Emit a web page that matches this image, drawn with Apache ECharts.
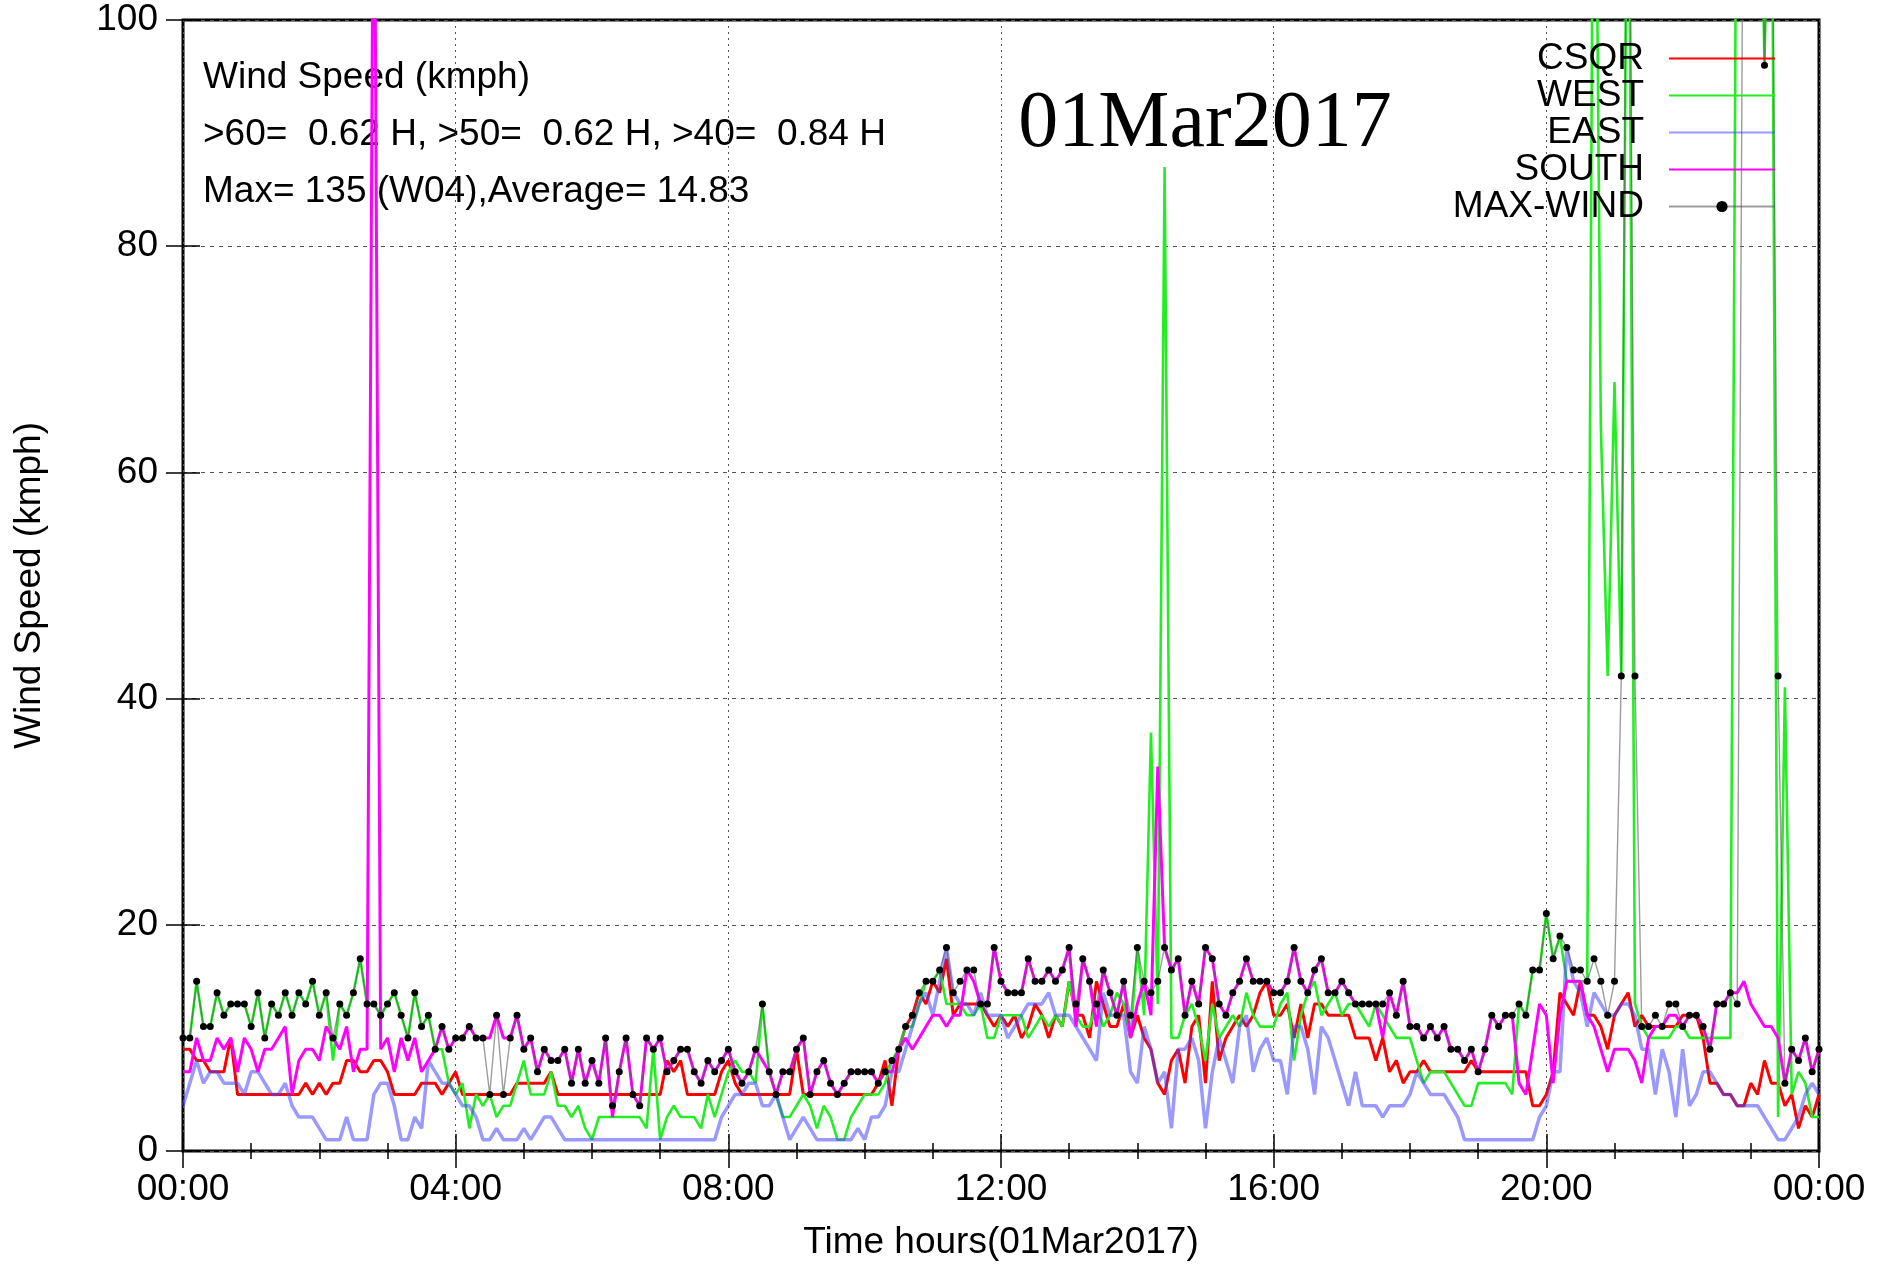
<!DOCTYPE html>
<html>
<head>
<meta charset="utf-8">
<script src="https://cdn.jsdelivr.net/npm/echarts@6/dist/echarts.min.js"></script>
<style>
  html, body { margin: 0; padding: 0; background: #fff; }
  #main { width: 1886px; height: 1265px; }
</style>
</head>
<body>
<div id="main"></div>
<script>
// samples every 6 minutes, 00:00 .. 24:00 (241 points)
const csqr = [
  9,9,8,8,7,7,7,10,5,5,
  5,5,5,5,5,5,5,5,6,5,
  6,5,6,6,8,8,7,7,8,8,
  7,5,5,5,5,6,6,6,5,6,
  7,5,5,5,5,5,5,5,5,6,
  6,6,6,6,7,5,5,5,5,5,
  5,5,5,5,5,5,5,5,5,5,
  5,8,7,8,5,5,5,5,5,7,
  8,6,5,5,5,5,5,5,5,5,
  9,5,5,5,5,5,5,5,5,5,
  5,5,6,8,4,9,11,12,14,13,
  15,14,17,12,13,13,13,13,12,11,
  12,11,12,10,11,13,12,10,12,11,
  15,12,12,10,15,13,11,11,13,10,
  12,10,9,6,5,8,9,6,11,12,
  6,15,8,10,11,12,11,12,14,15,
  12,12,13,10,13,10,13,13,12,12,
  12,12,10,10,10,8,10,7,8,6,
  7,7,8,7,7,7,7,7,7,8,
  7,7,7,7,7,7,7,7,4,4,
  5,7,14,13,12,15,12,12,11,9,
  12,13,14,11,12,11,11,11,11,11,
  12,12,12,10,6,6,5,5,4,4,
  6,5,8,6,6,4,5,2,4,3,
  5
];
const west = [
  10,10,15,11,11,14,12,13,13,13,
  11,14,10,13,12,14,12,14,13,15,
  12,14,8,13,12,14,17,13,13,12,
  13,14,12,10,14,11,12,9,9,6,
  5,6,2,5,4,5,3,4,4,6,
  8,5,5,5,7,4,4,3,4,2,
  1,3,3,3,3,3,3,3,2,9,
  1,3,4,3,3,3,2,5,3,5,
  7,8,7,7,6,13,7,5,3,3,
  4,5,4,2,4,3,1,1,3,4,
  5,5,5,6,8,9,11,11,13,15,
  15,16,13,13,13,12,12,13,10,10,
  12,12,12,12,10,11,12,11,12,11,
  15,12,11,11,13,11,12,14,13,10,
  18,12,37,13,87,10,10,12,13,11,
  8,13,10,11,12,11,14,12,11,11,
  11,13,14,8,12,14,15,12,13,14,
  12,13,13,12,11,13,12,11,10,10,
  10,8,6,7,7,7,6,5,4,4,
  6,6,6,6,6,5,13,12,16,16,
  21,17,19,15,15,15,15,135,64,42,
  68,42,130,13,11,10,10,10,10,11,
  11,10,10,10,10,10,10,10,130,133,
  129,131,96,127,3,41,5,7,6,3,
  3
];
const east = [
  4,6,8,6,7,7,6,6,6,5,
  7,7,6,5,5,6,4,3,3,3,
  2,1,1,1,3,1,1,1,5,6,
  6,4,1,1,3,2,8,7,6,6,
  5,4,4,3,1,1,2,1,1,1,
  2,1,2,3,3,2,1,1,1,1,
  1,1,1,1,1,1,1,1,1,1,
  1,1,1,1,1,1,1,1,1,3,
  4,5,5,6,6,4,4,5,3,1,
  2,3,2,1,1,1,1,1,1,2,
  1,3,3,4,7,7,9,11,13,14,
  12,15,18,14,13,13,12,14,12,12,
  12,10,11,12,13,13,13,14,12,12,
  12,11,10,9,8,14,12,12,12,7,
  6,11,9,6,7,2,9,9,10,8,
  2,7,10,8,6,11,12,7,9,10,
  8,8,5,11,11,9,5,11,10,8,
  6,4,7,4,4,4,3,4,4,4,
  5,7,6,5,5,5,4,3,1,1,
  1,1,1,1,1,1,1,1,1,3,
  4,7,7,18,15,14,11,14,13,12,
  12,13,13,12,9,9,5,9,7,3,
  9,4,5,7,7,6,5,5,4,4,
  4,4,3,2,1,1,2,3,5,6,
  5
];
const south = [
  7,7,10,8,8,10,9,10,7,10,
  9,7,9,9,10,11,5,8,9,9,
  8,11,10,9,11,7,9,9,125,9,
  10,7,10,8,10,7,8,9,11,9,
  10,10,11,10,10,10,12,10,10,12,
  9,10,7,9,8,8,9,6,9,6,
  8,6,10,3,7,10,5,4,10,9,
  10,7,8,9,9,7,6,8,7,8,
  9,7,6,7,9,8,7,5,7,7,
  9,10,5,7,8,6,5,6,7,7,
  7,7,6,7,7,9,10,9,10,11,
  12,12,11,12,12,16,15,13,13,18,
  15,14,14,14,17,15,15,16,15,16,
  18,11,17,15,11,16,14,12,15,10,
  13,15,12,34,18,16,17,12,15,13,
  18,17,13,12,14,15,17,15,15,15,
  14,14,15,18,15,14,16,17,14,14,
  15,14,13,13,13,13,10,14,12,15,
  11,11,10,11,10,11,9,9,8,9,
  7,9,12,11,12,12,6,5,9,13,
  12,6,12,15,15,15,12,11,9,7,
  9,9,9,8,6,10,11,11,12,12,
  11,12,12,11,9,13,13,14,14,15,
  13,12,11,11,10,6,9,8,10,7,
  9
];
const maxWind = [
  10,10,15,11,11,14,12,13,13,13,
  11,14,10,13,12,14,12,14,13,15,
  12,14,10,13,12,14,17,13,13,12,
  13,14,12,10,14,11,12,9,11,9,
  10,10,11,10,10,5,12,5,10,12,
  9,10,7,9,8,8,9,6,9,6,
  8,6,10,4,7,10,5,4,10,9,
  10,7,8,9,9,7,6,8,7,8,
  9,7,6,7,9,13,7,5,7,7,
  9,10,5,7,8,6,5,6,7,7,
  7,7,6,7,8,9,11,12,14,15,
  15,16,18,14,15,16,16,13,13,18,
  15,14,14,14,17,15,15,16,15,16,
  18,13,17,15,13,16,14,12,15,12,
  18,15,14,15,18,16,17,12,15,13,
  18,17,13,12,14,15,17,15,15,15,
  14,14,15,18,15,14,16,17,14,14,
  15,14,13,13,13,13,13,14,12,15,
  11,11,10,11,10,11,9,9,8,9,
  7,9,12,11,12,12,13,12,16,16,
  21,17,19,18,16,16,15,17,15,12,
  15,42,135,42,11,11,12,11,13,13,
  11,12,12,11,9,13,13,14,13,130,
  128,132,96,125,42,6,9,8,10,7,
  9
];
const seriesNames = ['CSQR', 'WEST', 'EAST', 'SOUTH', 'MAX-WIND'];
const infoLines = [
  'Wind Speed (kmph)',
  '>60=  0.62 H, >50=  0.62 H, >40=  0.84 H',
  'Max= 135 (W04),Average= 14.83'
];
const dayTitle = '01Mar2017';

const FONT = 'Liberation Sans, Arial, sans-serif';
const hours = csqr.map((v, i) => i / 10);
const toPairs = arr => arr.map((v, i) => [hours[i], v]);

function hourLabel(v) {
  const h = Math.round(v) % 24;
  return (h < 10 ? '0' : '') + h + ':00';
}

const tickStyle = { color: '#000', width: 1.5 };

const chart = echarts.init(document.getElementById('main'));

const lineSeries = (name, data, color, width, extra) => Object.assign({
  name: name,
  type: 'line',
  data: toPairs(data),
  symbol: 'none',
  clip: true,
  animation: false,
  lineStyle: { color: color, width: width },
  itemStyle: { color: color }
}, extra || {});

// legend: plain line for the four stations, line + dot for MAX-WIND
const legendData = seriesNames.map(n => n === 'MAX-WIND'
  ? { name: n }
  : { name: n, itemStyle: { opacity: 0 } });

chart.setOption({
  backgroundColor: '#fff',
  animation: false,
  grid: {
    left: 183, right: 67, top: 20, bottom: 114,
    containLabel: false, outerBoundsMode: 'none',
    show: true, borderColor: '#000', borderWidth: 3, backgroundColor: 'transparent'
  },
  xAxis: [{
    type: 'value', min: 0, max: 24, interval: 4, position: 'bottom',
    axisLine: { show: false },
    axisTick: { show: true, inside: true, length: 17, lineStyle: tickStyle },
    minorTick: { show: true, splitNumber: 4, length: 8, lineStyle: tickStyle },
    axisLabel: { formatter: hourLabel, fontSize: 37, fontFamily: FONT, color: '#000', margin: 20 },
    splitLine: { show: true, lineStyle: { type: [2, 4], color: '#555', width: 1 } },
    name: 'Time hours(01Mar2017)', nameLocation: 'middle', nameGap: 73,
    nameTextStyle: { fontSize: 37, fontFamily: FONT, color: '#000' }
  }, {
    type: 'value', min: 0, max: 24, interval: 4, position: 'top',
    axisLine: { show: false },
    axisTick: { show: true, inside: true, length: 17, lineStyle: tickStyle },
    minorTick: { show: true, splitNumber: 4, length: 8, lineStyle: tickStyle },
    axisLabel: { show: false },
    splitLine: { show: false }
  }],
  yAxis: [{
    type: 'value', min: 0, max: 100, interval: 20, position: 'left',
    axisLine: { show: false },
    axisTick: { show: true, inside: true, length: 17, lineStyle: tickStyle },
    axisLabel: { fontSize: 37, fontFamily: FONT, color: '#000', margin: 25 },
    splitLine: { show: true, lineStyle: { type: [4, 5], color: '#555', width: 1 } },
    name: 'Wind Speed (kmph)', nameLocation: 'middle', nameGap: 135,
    nameTextStyle: { fontSize: 37, fontFamily: FONT, color: '#000' }
  }, {
    type: 'value', min: 0, max: 100, interval: 20, position: 'right',
    axisLine: { show: false },
    axisTick: { show: true, inside: true, length: 17, lineStyle: tickStyle },
    axisLabel: { show: false },
    splitLine: { show: false }
  }],
  legend: {
    data: legendData,
    orient: 'vertical',
    right: 105, top: 35,
    align: 'right',
    itemWidth: 106, itemHeight: 14, itemGap: 0,
    textStyle: { fontSize: 37, fontFamily: FONT, color: '#000', padding: [0, 20, 0, 0] }
  },
  graphic: [
    { type: 'text', x: 203, y: 78, z: 0, style: { text: infoLines[0], font: '37px ' + FONT, fill: '#000', verticalAlign: 'middle' } },
    { type: 'text', x: 203, y: 135, z: 0, style: { text: infoLines[1], font: '37px ' + FONT, fill: '#000', verticalAlign: 'middle' } },
    { type: 'text', x: 203, y: 192, z: 0, style: { text: infoLines[2], font: '37px ' + FONT, fill: '#000', verticalAlign: 'middle' } },
    { type: 'text', x: 1205, y: 125, z: 0, style: { text: dayTitle, font: '80px Liberation Serif, Times New Roman, serif', fill: '#000', align: 'center', verticalAlign: 'middle' } }
  ],
  series: [
    lineSeries('CSQR', csqr, '#ff0000', 3),
    lineSeries('WEST', west, '#22ee22', 2.6),
    lineSeries('EAST', east, 'rgba(70,70,255,0.55)', 3.5),
    lineSeries('SOUTH', south, '#ff00ff', 3),
    lineSeries('MAX-WIND', maxWind, 'rgba(90,90,90,0.6)', 1.4, {
      symbol: 'circle', symbolSize: 7, showSymbol: true,
      itemStyle: { color: '#000' }
    })
  ]
});
</script>
</body>
</html>
